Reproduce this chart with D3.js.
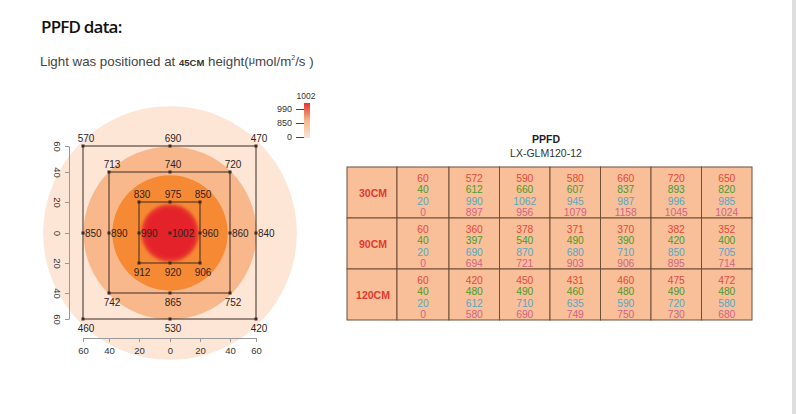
<!DOCTYPE html>
<html><head><meta charset="utf-8">
<script src="https://cdn.jsdelivr.net/npm/d3@7"></script>
<style>
body{margin:0;background:#fff;}
svg{display:block;font-family:"Liberation Sans",Arial,sans-serif;}
</style></head>
<body><svg id="c" width="796" height="414"></svg>
<script>
// ---- data ----
const axisTicks = [-60,-40,-20,0,20,40,60];
const rings = [88, 60, 40];            // ring radii (cm) outer->inner
const ringColors = ["#fde6d6","#f9b88c","#f68a34"];
const coreRadius = 20;
const points = [
  {x:-60,y:60,v:570,p:"top"},{x:0,y:60,v:690,p:"top"},{x:60,y:60,v:470,p:"top"},
  {x:-40,y:40,v:713,p:"top"},{x:0,y:40,v:740,p:"top"},{x:40,y:40,v:720,p:"top"},
  {x:-20,y:20,v:830,p:"top"},{x:0,y:20,v:975,p:"top"},{x:20,y:20,v:850,p:"top"},
  {x:-60,y:0,v:850,p:"right"},{x:-40,y:0,v:890,p:"right"},{x:-20,y:0,v:990,p:"right"},
  {x:0,y:0,v:1002,p:"right"},{x:20,y:0,v:960,p:"right"},{x:40,y:0,v:860,p:"right"},{x:60,y:0,v:840,p:"right"},
  {x:-20,y:-20,v:912,p:"bottom"},{x:0,y:-20,v:920,p:"bottom"},{x:20,y:-20,v:906,p:"bottom"},
  {x:-40,y:-40,v:742,p:"bottom"},{x:0,y:-40,v:865,p:"bottom"},{x:40,y:-40,v:752,p:"bottom"},
  {x:-60,y:-60,v:460,p:"bottom"},{x:0,y:-60,v:530,p:"bottom"},{x:60,y:-60,v:420,p:"bottom"}
];
const squares = [60,40,20];
const legendTicks = [0,850,990];
const legendMax = 1002;

const heights = ["30CM","90CM","120CM"];
const positions = ["60","40","20","0"];
const table = [
  [[572,590,580,660,720,650],[612,660,607,837,893,820],[990,1062,945,987,996,985],[897,956,1079,1158,1045,1024]],
  [[360,378,371,370,382,352],[397,540,490,390,420,400],[690,870,680,710,850,705],[694,721,903,906,895,714]],
  [[420,450,431,460,475,472],[480,490,460,480,490,480],[612,710,635,590,720,580],[580,690,749,750,730,680]]
];
const posColors = ["#e4493c","#4b9a2c","#55a7c6","#cf6585"];

// ---- drawing ----
const svg = d3.select("#c");
svg.append("rect").attr("x",792).attr("y",0).attr("width",4).attr("height",414).attr("fill","#dedede");

svg.append("text").attr("x",41).attr("y",33).attr("font-family","'Open Sans',sans-serif")
  .attr("font-size",17).attr("font-weight",600).attr("fill","#111").attr("letter-spacing",-0.8).text("PPFD data:");
const sub = svg.append("text").attr("x",40).attr("y",66).attr("font-size",13.3).attr("fill","#444");
sub.append("tspan").text("Light was positioned at ");
sub.append("tspan").attr("font-size",9.5).attr("font-weight","bold").attr("fill","#333").text("45CM");
sub.append("tspan").text(" height(");
sub.append("tspan").attr("font-size",11).attr("dy",-2).text("μ");
sub.append("tspan").attr("dy",2).text("mol/m");
sub.append("tspan").attr("font-size",7).attr("dy",-6).text("2");
sub.append("tspan").attr("dy",6).text("/s )");

const x = d3.scaleLinear().domain(axisTicks).range([83,109,139,170,200,230,256]);
const y = d3.scaleLinear().domain(axisTicks).range([319,293,263,233,202,172,146]);
const rx = d3.scaleLinear().domain([0,60]).range([0,86.5]);

const g = svg.append("g");
rings.forEach((r,i)=>{
  g.append("circle").attr("cx",x(0)).attr("cy",y(0)).attr("r",rx(r)).attr("fill",ringColors[i]);
});
const defs = svg.append("defs");
const rg = defs.append("radialGradient").attr("id","core");
rg.append("stop").attr("offset","0.8").attr("stop-color","#e4202c");
rg.append("stop").attr("offset","1").attr("stop-color","#e8402c");
defs.append("filter").attr("id","blur").append("feGaussianBlur").attr("stdDeviation",1.5);
g.append("circle").attr("cx",x(0)).attr("cy",y(0)).attr("r",rx(coreRadius)).attr("fill","url(#core)").attr("filter","url(#blur)");

squares.forEach(s=>{
  g.append("rect").attr("x",x(-s)).attr("y",y(s)).attr("width",x(s)-x(-s)).attr("height",y(-s)-y(s))
    .attr("fill","none").attr("stroke","#3a2a22").attr("stroke-width",1);
});

g.selectAll("rect.pt").data(points).join("rect").attr("class","pt")
  .attr("x",d=>x(d.x)-1.5).attr("y",d=>y(d.y)-1.5).attr("width",3).attr("height",3).attr("fill","#3a2a22");
g.selectAll("text.pl").data(points).join("text").attr("class","pl")
  .attr("font-size",10).attr("fill","#2f221b")
  .attr("x",d=>d.p==="right"?x(d.x)+2:x(d.x)+3)
  .attr("y",d=>d.p==="top"?y(d.y)-4:d.p==="bottom"?y(d.y)+13:y(d.y)+3.5)
  .attr("text-anchor",d=>d.p==="right"?"start":"middle")
  .text(d=>d.v);

const fmt = d=>Math.abs(d);
const ax = svg.append("g").attr("transform","translate(0,338)")
  .call(d3.axisBottom(x).tickValues(axisTicks).tickFormat(fmt).tickSize(4).tickSizeOuter(0));
const ay = svg.append("g").attr("transform","translate(69,0)")
  .call(d3.axisLeft(y).tickValues(axisTicks).tickFormat(fmt).tickSize(4).tickSizeOuter(0));
[ax,ay].forEach(a=>{
  a.select(".domain").attr("stroke","#999");
  a.selectAll(".tick line").attr("stroke","#999");
  a.selectAll(".tick text").attr("fill","#333").attr("font-size",9.5).attr("font-family","'Liberation Sans',Arial,sans-serif");
});
ax.selectAll(".tick text").attr("dy","0.9em").attr("y",7);
ay.selectAll(".tick text").attr("x",0).attr("dy",0).attr("text-anchor","middle")
  .attr("transform","translate(-12,0) rotate(90)").attr("y",3);

// legend
const ly = d3.scaleLinear().domain([0,850,990,legendMax]).range([137,123,109,103]);
const lg = defs.append("linearGradient").attr("id","leg").attr("x1",0).attr("y1",1).attr("x2",0).attr("y2",0);
lg.append("stop").attr("offset",0).attr("stop-color","#fbe3d2");
lg.append("stop").attr("offset",0.5).attr("stop-color","#f5b98e");
lg.append("stop").attr("offset",1).attr("stop-color","#e4332d");
svg.append("rect").attr("x",304).attr("y",ly(legendMax)).attr("width",6).attr("height",ly(0)-ly(legendMax)+1).attr("fill","url(#leg)");
svg.append("text").attr("x",306).attr("y",ly(legendMax)-4).attr("text-anchor","middle").attr("font-size",8.5).attr("fill","#333").text(legendMax);
const lax = svg.append("g").attr("transform","translate(304,0)")
  .call(d3.axisLeft(ly).tickValues(legendTicks).tickSize(8).tickSizeOuter(0));
lax.select(".domain").remove();
lax.selectAll(".tick line").attr("stroke","#444");
lax.selectAll(".tick text").attr("font-size",9).attr("fill","#333").attr("x",-12).attr("font-family","'Liberation Sans',Arial,sans-serif");

// table
svg.append("text").attr("x",546).attr("y",143).attr("text-anchor","middle").attr("font-size",10.5).attr("font-weight","bold").attr("fill","#222").text("PPFD");
svg.append("text").attr("x",546).attr("y",157).attr("text-anchor","middle").attr("font-size",10.5).attr("fill","#333").text("LX-GLM120-12");

const colX = d3.scaleLinear().domain([0,6]).range([449,752]);
const rowY = d3.scaleBand().domain(heights).range([167,320]);
const tg = svg.append("g");
heights.forEach((h,ri)=>{
  const y0 = rowY(h), hh = rowY.bandwidth();
  const cells = [{x0:347,x1:397},{x0:397,x1:449}].concat(d3.range(6).map(i=>({x0:colX(i),x1:colX(i+1)})));
  cells.forEach(c=>{
    tg.append("rect").attr("x",c.x0).attr("y",y0).attr("width",c.x1-c.x0).attr("height",hh)
      .attr("fill","#f8bf98").attr("stroke","#6e4e36").attr("stroke-width",1);
  });
  tg.append("text").attr("x",373).attr("y",y0+hh/2+4).attr("text-anchor","middle").attr("font-size",10.5)
    .attr("font-weight","bold").attr("fill","#e03a30").text(h);
  positions.forEach((p,pi)=>{
    const yy = y0+11+pi*11.6+3.5;
    tg.append("text").attr("x",423).attr("y",yy).attr("text-anchor","middle").attr("font-size",10.3)
      .attr("fill",posColors[pi]).text(p);
    table[ri][pi].forEach((v,ci)=>{
      tg.append("text").attr("x",(colX(ci)+colX(ci+1))/2).attr("y",yy).attr("text-anchor","middle").attr("font-size",10.3)
        .attr("fill",posColors[pi]).text(v);
    });
  });
});
</script></body></html>
